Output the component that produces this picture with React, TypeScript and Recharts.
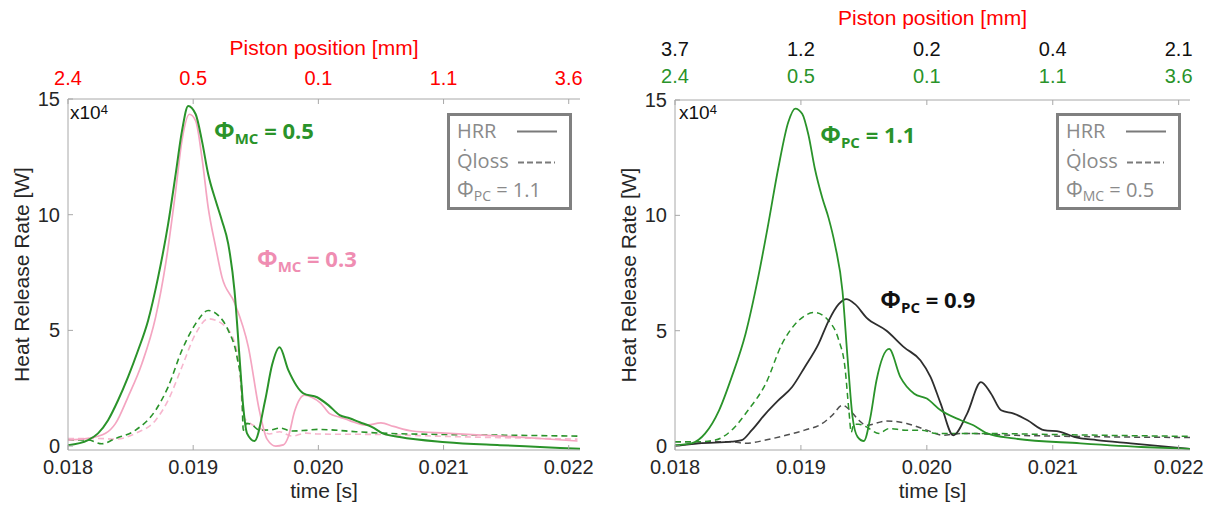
import React from 'react';
import { LineChart, Line, XAxis, YAxis, ReferenceDot } from 'recharts';

// ---- axis ticks ----
const timeTicks = [0.018, 0.019, 0.02, 0.021, 0.022];
const pistonMC = ['2.4', '0.5', '0.1', '1.1', '3.6'];
const pistonPC = ['3.7', '1.2', '0.2', '0.4', '2.1'];
const hrrTicks = [0, 5, 10, 15];

// ---- left panel: main-chamber equivalence ratio sweep (x10^4 W) ----
const mc05HrrT = [0.018, 0.01816, 0.01824, 0.01832, 0.0184, 0.01848, 0.01856, 0.01864, 0.01872, 0.0188, 0.01886, 0.01891, 0.01896, 0.01902, 0.01907, 0.01912, 0.01918, 0.01923, 0.01928, 0.01933, 0.01937, 0.0194, 0.01943, 0.01949, 0.019575, 0.01963, 0.01969, 0.01976, 0.01988, 0.01999, 0.02008, 0.02017, 0.02025, 0.02033, 0.02043, 0.02051, 0.02065, 0.02102, 0.02145, 0.02177, 0.02209];
const mc05HrrV = [0.04, 0.26, 0.55, 1.12, 1.98, 2.99, 4.14, 5.43, 7.3, 9.6, 11.75, 13.6, 14.7, 14.34, 13.19, 11.75, 10.6, 9.74, 8.74, 6.72, 3.85, 1.69, 0.55, 0.22, 1.98, 3.5, 4.27, 3.28, 2.28, 2.11, 1.77, 1.34, 1.2, 1.03, 0.82, 0.56, 0.39, 0.17, 0.04, -0.04, -0.12];

const mc03HrrT = [0.018, 0.01816, 0.0183, 0.01838, 0.01848, 0.01859, 0.0187, 0.01878, 0.01886, 0.01891, 0.01897, 0.01902, 0.01907, 0.01912, 0.01918, 0.01923, 0.01933, 0.01944, 0.01953, 0.01959, 0.01966, 0.01972, 0.01976, 0.01981, 0.01989, 0.01995, 0.02002, 0.02009, 0.02017, 0.02025, 0.02038, 0.0205, 0.0206, 0.02075, 0.02101, 0.0215, 0.02207];
const mc03HrrV = [0.26, 0.33, 0.55, 0.98, 2.13, 3.56, 5.57, 7.87, 11.03, 13.19, 14.34, 14.05, 12.47, 10.31, 8.59, 7.3, 6.2, 4.3, 1.5, 0.3, 0.0, 0.05, 0.4, 1.5, 2.2, 2.1, 1.85, 1.4, 1.25, 1.1, 0.9, 1.0, 0.85, 0.65, 0.56, 0.42, 0.22];

const mc05LossT = [0.018, 0.01816, 0.01827, 0.01838, 0.01854, 0.0187, 0.0188, 0.01891, 0.01902, 0.01912, 0.0192, 0.01928, 0.01935, 0.019388, 0.0194, 0.019427, 0.01946, 0.01953, 0.01962, 0.01969, 0.01979, 0.0199, 0.02, 0.0201, 0.0203, 0.0205, 0.021, 0.0215, 0.02209];
const mc05LossV = [0.26, 0.26, 0.1, 0.33, 0.69, 1.55, 2.56, 4.14, 5.29, 5.86, 5.65, 5.0, 3.85, 2.41, 0.69, 0.98, 0.95, 0.69, 0.7, 0.78, 0.65, 0.68, 0.72, 0.7, 0.62, 0.56, 0.5, 0.47, 0.43];

const mc03LossT = [0.018, 0.01824, 0.01838, 0.01854, 0.0187, 0.0188, 0.01891, 0.01902, 0.01912, 0.01923, 0.01933, 0.01937, 0.0194, 0.01945, 0.01953, 0.01961, 0.01969, 0.01979, 0.0199, 0.02, 0.02048, 0.021, 0.02207];
const mc03LossV = [0.33, 0.33, 0.3, 0.55, 1.12, 1.98, 3.42, 4.86, 5.5, 5.29, 4.5, 3.3, 1.3, 1.0, 0.78, 0.52, 0.62, 0.43, 0.56, 0.52, 0.5, 0.42, 0.3];

// ---- right panel: pre-chamber equivalence ratio sweep (x10^4 W) ----
const pc11HrrT = [0.018, 0.01813, 0.01824, 0.01835, 0.01845, 0.01856, 0.01866, 0.01874, 0.01882, 0.0189, 0.018955, 0.01901, 0.01906, 0.01911, 0.01917, 0.01922, 0.01927, 0.01933, 0.01937, 0.01941, 0.01945, 0.0195, 0.01955, 0.0196, 0.0197, 0.01979, 0.0199, 0.02, 0.02011, 0.02027, 0.02037, 0.02048, 0.02069, 0.02122, 0.02175, 0.02209];
const pc11HrrV = [0.04, 0.12, 0.55, 1.55, 2.99, 4.86, 7.3, 9.6, 12.04, 14.05, 14.63, 14.4, 13.48, 12.04, 10.75, 9.88, 8.74, 6.72, 3.85, 1.26, 0.4, 0.22, 1.2, 2.84, 4.21, 2.99, 2.27, 2.06, 1.55, 1.12, 0.9, 0.55, 0.33, 0.12, -0.05, -0.12];

const pc09HrrT = [0.018, 0.01819, 0.01845, 0.01853, 0.01861, 0.01872, 0.01882, 0.01893, 0.01903, 0.01914, 0.01922, 0.0193, 0.01936, 0.01943, 0.01952, 0.01968, 0.01982, 0.01995, 0.02003, 0.02011, 0.02021, 0.02032, 0.02043, 0.02051, 0.02059, 0.02069, 0.0208, 0.02093, 0.02106, 0.02117, 0.02135, 0.02162, 0.02209];
const pc09HrrV = [0.0, 0.12, 0.19, 0.26, 0.69, 1.41, 1.98, 2.56, 3.42, 4.43, 5.43, 6.15, 6.37, 6.15, 5.57, 5.0, 4.28, 3.71, 2.99, 1.84, 0.47, 1.41, 2.77, 2.27, 1.55, 1.41, 1.12, 0.69, 0.62, 0.4, 0.26, 0.12, -0.12];

const pc11LossT = [0.018, 0.01819, 0.01832, 0.01845, 0.01858, 0.01872, 0.01885, 0.01898, 0.01911, 0.01922, 0.0193, 0.01935, 0.01938, 0.0194, 0.01942, 0.01946, 0.01952, 0.01962, 0.0197, 0.01983, 0.01996, 0.02007, 0.02043, 0.021, 0.02209];
const pc11LossV = [0.19, 0.19, 0.26, 0.69, 1.55, 2.7, 4.43, 5.43, 5.79, 5.43, 4.6, 3.4, 1.6, 0.6, 0.95, 0.95, 0.83, 0.55, 0.76, 0.69, 0.69, 0.55, 0.55, 0.5, 0.42];

const pc09LossT = [0.018, 0.01845, 0.01856, 0.01872, 0.01888, 0.01903, 0.01917, 0.01925, 0.01933, 0.01939, 0.01946, 0.01952, 0.01968, 0.01984, 0.02, 0.02013, 0.02027, 0.02069, 0.02209];
const pc09LossV = [0.19, 0.19, 0.12, 0.26, 0.47, 0.69, 0.98, 1.34, 1.77, 1.55, 1.12, 0.9, 1.09, 0.98, 0.69, 0.47, 0.55, 0.47, 0.37];

const zip = (t: number[], v: number[]) => t.map((x, i) => ({ t: x, v: v[i] }));

const X_DOMAIN: [number, number] = [0.018, 0.02209];
const Y_DOMAIN: [number, number] = [-0.17, 15];

const GREEN = '#2a932a';
const PINK = '#f4a5c1';
const PINK_TEXT = '#ef8db2';
const DARK = '#2e2e2e';
const AXIS = '#a8a8a8';
const TEXT = '#262626';
const RED = '#ff0000';
const FONT = '"Liberation Sans", Arial, Helvetica, sans-serif';
const NOTE_FONT = '"Open Sans", "Noto Sans", sans-serif';

const tickFont = { fontSize: 20, fontFamily: FONT };
const DASH = '6 4';

function PhiNote(props: any) {
  const { viewBox, sub, rest, color } = props;
  const x = viewBox ? viewBox.x : 0;
  const y = viewBox ? viewBox.y : 0;
  return (
    <text x={x} y={y} fill={color} fontFamily={NOTE_FONT} fontWeight={700} fontSize={22}>
      <tspan fontSize={24}>Φ</tspan>
      <tspan fontSize={15} dy={5}>{sub}</tspan>
      <tspan dy={-5} fontSize={22}>{' = ' + rest}</tspan>
    </text>
  );
}

function KeyBox({ left, sub, val }: { left: number; sub: string; val: string }) {
  const grey = '#8a8a8a';
  return (
    <svg width={125} height={97} style={{ position: 'absolute', left, top: 113 }}>
      <rect x={1.5} y={1.5} width={122} height={94} fill="#fff" stroke="#808080" strokeWidth={3} />
      <g fontFamily={NOTE_FONT} fontSize={20} fill={grey}>
        <text x={10} y={25}>HRR</text>
        <text x={10} y={55}>{'Q\u0307loss'}</text>
        <text x={10} y={84}>
          <tspan fontSize={21}>Φ</tspan>
          <tspan fontSize={14} dy={4}>{sub}</tspan>
          <tspan dy={-4} fontSize={20}>{' = ' + val}</tspan>
        </text>
      </g>
      <line x1={70} x2={110} y1={18.5} y2={18.5} stroke="#7a7a7a" strokeWidth={2} />
      <line x1={71} x2={108} y1={49.5} y2={49.5} stroke="#7a7a7a" strokeWidth={2} strokeDasharray="6 3" />
    </svg>
  );
}

function Exponent({ left }: { left: number }) {
  return (
    <div style={{ position: 'absolute', left, top: 102, fontFamily: FONT, fontSize: 19, color: '#111', lineHeight: '22px' }}>
      x10<sup style={{ fontSize: 13, verticalAlign: 'top', position: 'relative', top: -3 }}>4</sup>
    </div>
  );
}

const fmtTime = (v: number) => v.toFixed(3);
const pickLabel = (labels: string[]) => (v: number) => {
  let best = 0;
  timeTicks.forEach((t, i) => {
    if (Math.abs(t - v) < Math.abs(timeTicks[best] - v)) best = i;
  });
  return labels[best];
};

// An invisible series bound to a secondary x axis so that axis gets its tick values.
function carrier(axisId: string) {
  return (
    <Line
      xAxisId={axisId}
      yAxisId="l"
      data={zip(timeTicks, [0, 0, 0, 0, 0])}
      dataKey="v"
      stroke="none"
      strokeWidth={0}
      dot={false}
      activeDot={false}
      legendType="none"
      isAnimationActive={false}
    />
  );
}

function bottomAxis() {
  return (
    <XAxis
      xAxisId="b"
      dataKey="t"
      type="number"
      orientation="bottom"
      domain={X_DOMAIN}
      allowDataOverflow
      ticks={timeTicks}
      interval={0}
      tickFormatter={fmtTime}
      height={56}
      stroke={AXIS}
      tickSize={-5}
      tickMargin={15}
      tick={{ ...tickFont, fill: TEXT }}
      label={{ value: 'time [s]', position: 'insideBottom', offset: 8, fill: TEXT, fontSize: 21, fontFamily: FONT }}
    />
  );
}

function leftYAxis() {
  return (
    <YAxis
      yAxisId="l"
      type="number"
      domain={Y_DOMAIN}
      allowDataOverflow
      ticks={hrrTicks}
      interval={0}
      width={68}
      stroke={AXIS}
      tickSize={-5}
      tickMargin={13}
      tick={{ ...tickFont, fill: TEXT }}
      label={{
        value: 'Heat Release Rate [W]',
        angle: -90,
        position: 'insideLeft',
        offset: 22,
        fill: TEXT,
        fontSize: 21,
        fontFamily: FONT,
        style: { textAnchor: 'middle' },
      }}
    />
  );
}

function rightYAxis() {
  return (
    <YAxis
      yAxisId="r"
      orientation="right"
      type="number"
      domain={Y_DOMAIN}
      allowDataOverflow
      ticks={hrrTicks}
      interval={0}
      width={0}
      stroke={AXIS}
      tickSize={-5}
      tickMargin={0}
      tick={{ fill: 'transparent', fontSize: 1 }}
    />
  );
}

function MainChamberPanel() {
  return (
    <LineChart width={600} height={506} margin={{ top: 30, right: 20, bottom: 0, left: 0 }}>
      {bottomAxis()}
      <XAxis
        xAxisId="top"
        dataKey="t"
        type="number"
        orientation="top"
        domain={X_DOMAIN}
        allowDataOverflow
        ticks={timeTicks}
        interval={0}
        tickFormatter={pickLabel(pistonMC)}
        height={69}
        stroke={AXIS}
        tickSize={-5}
        tickMargin={19}
        tick={{ ...tickFont, fill: RED }}
        label={{ value: 'Piston position [mm]', position: 'insideTop', offset: 10, fill: RED, fontSize: 21, fontFamily: FONT }}
      />
      {leftYAxis()}
      {rightYAxis()}
      {carrier('top')}
      <Line xAxisId="b" yAxisId="l" data={zip(mc03LossT, mc03LossV)} dataKey="v" type="monotone" stroke="#f7b6ce" strokeWidth={1.6} strokeDasharray={DASH} dot={false} isAnimationActive={false} />
      <Line xAxisId="b" yAxisId="l" data={zip(mc05LossT, mc05LossV)} dataKey="v" type="monotone" stroke={GREEN} strokeWidth={1.6} strokeDasharray={DASH} dot={false} isAnimationActive={false} />
      <Line xAxisId="b" yAxisId="l" data={zip(mc03HrrT, mc03HrrV)} dataKey="v" type="monotone" stroke={PINK} strokeWidth={1.7} dot={false} isAnimationActive={false} />
      <Line xAxisId="b" yAxisId="l" data={zip(mc05HrrT, mc05HrrV)} dataKey="v" type="monotone" stroke={GREEN} strokeWidth={2} dot={false} isAnimationActive={false} />
      <ReferenceDot xAxisId="b" yAxisId="l" x={0.019167} y={13.27} r={0} fill="none" stroke="none" label={<PhiNote sub="MC" rest="0.5" color={GREEN} />} />
      <ReferenceDot xAxisId="b" yAxisId="l" x={0.01951} y={7.74} r={0} fill="none" stroke="none" label={<PhiNote sub="MC" rest="0.3" color={PINK_TEXT} />} />
    </LineChart>
  );
}

function PreChamberPanel() {
  return (
    <LineChart width={600} height={506} margin={{ top: 0, right: 17, bottom: 0, left: 0 }}>
      {bottomAxis()}
      <XAxis
        xAxisId="tg"
        dataKey="t"
        type="number"
        orientation="top"
        domain={X_DOMAIN}
        allowDataOverflow
        ticks={timeTicks}
        interval={0}
        tickFormatter={pickLabel(pistonMC)}
        height={28}
        stroke={AXIS}
        tickSize={-5}
        tickMargin={22}
        tick={{ ...tickFont, fill: GREEN }}
      />
      <XAxis
        xAxisId="tk"
        dataKey="t"
        type="number"
        orientation="top"
        domain={X_DOMAIN}
        allowDataOverflow
        ticks={timeTicks}
        interval={0}
        tickFormatter={pickLabel(pistonPC)}
        height={72}
        axisLine={false}
        tickLine={false}
        tickSize={0}
        tickMargin={16}
        tick={{ ...tickFont, fill: '#111' }}
        label={{ value: 'Piston position [mm]', position: 'insideTop', offset: 10, fill: RED, fontSize: 21, fontFamily: FONT }}
      />
      {leftYAxis()}
      {rightYAxis()}
      {carrier('tg')}
      {carrier('tk')}
      <Line xAxisId="b" yAxisId="l" data={zip(pc09LossT, pc09LossV)} dataKey="v" type="monotone" stroke="#505050" strokeWidth={1.5} strokeDasharray={DASH} dot={false} isAnimationActive={false} />
      <Line xAxisId="b" yAxisId="l" data={zip(pc11LossT, pc11LossV)} dataKey="v" type="monotone" stroke={GREEN} strokeWidth={1.5} strokeDasharray={DASH} dot={false} isAnimationActive={false} />
      <Line xAxisId="b" yAxisId="l" data={zip(pc09HrrT, pc09HrrV)} dataKey="v" type="monotone" stroke={DARK} strokeWidth={1.8} dot={false} isAnimationActive={false} />
      <Line xAxisId="b" yAxisId="l" data={zip(pc11HrrT, pc11HrrV)} dataKey="v" type="monotone" stroke={GREEN} strokeWidth={1.8} dot={false} isAnimationActive={false} />
      <ReferenceDot xAxisId="b" yAxisId="l" x={0.019154} y={13.14} r={0} fill="none" stroke="none" label={<PhiNote sub="PC" rest="1.1" color={GREEN} />} />
      <ReferenceDot xAxisId="b" yAxisId="l" x={0.019631} y={5.97} r={0} fill="none" stroke="none" label={<PhiNote sub="PC" rest="0.9" color="#111" />} />
    </LineChart>
  );
}

export default function App() {
  return (
    <div style={{ position: 'absolute', left: 0, top: 0, width: 1208, height: 506, background: '#fff', overflow: 'hidden' }}>
      <div style={{ position: 'absolute', left: 0, top: 0 }}>
        <MainChamberPanel />
      </div>
      <div style={{ position: 'absolute', left: 607, top: 0 }}>
        <PreChamberPanel />
      </div>
      <Exponent left={70} />
      <Exponent left={679} />
      <KeyBox left={447} sub="PC" val="1.1" />
      <KeyBox left={1056} sub="MC" val="0.5" />
    </div>
  );
}
